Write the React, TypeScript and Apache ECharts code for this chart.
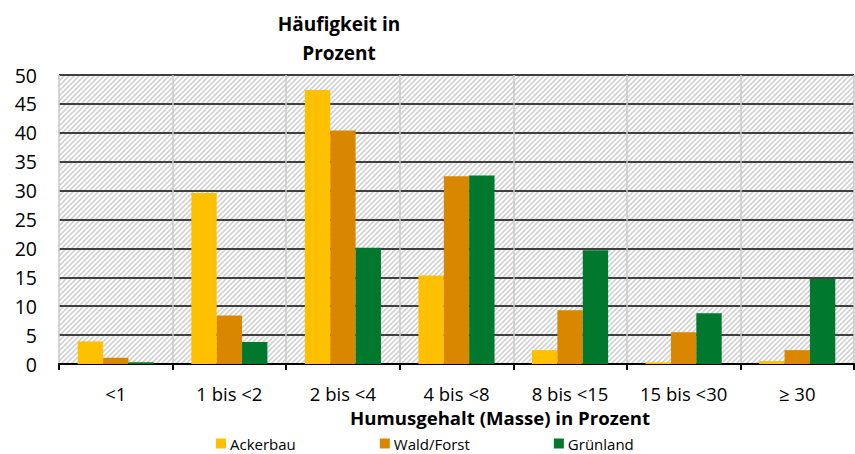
import React, { useEffect, useRef } from 'react';
import * as echarts from 'echarts';

const categories = ['<1', '1 bis <2', '2 bis <4', '4 bis <8', '8 bis <15', '15 bis <30', '≥ 30'];
const ackerbau = [3.9, 29.6, 47.4, 15.3, 2.4, 0.3, 0.5];
const waldForst = [1.1, 8.4, 40.4, 32.5, 9.3, 5.5, 2.4];
const gruenland = [0.3, 3.8, 20.1, 32.6, 19.7, 8.8, 14.7];
const seriesNames = ['Ackerbau', 'Wald/Forst', 'Grünland'];
const colors = ['#FFC000', '#D98700', '#00782D'];
const yTicks = { min: 0, max: 50, interval: 5 };

const FONT = 'Open Sans';

function makeHatch(): HTMLCanvasElement {
  const s = 5;
  const c = document.createElement('canvas');
  c.width = s;
  c.height = s;
  const ctx = c.getContext('2d')!;
  ctx.fillStyle = '#ffffff';
  ctx.fillRect(0, 0, s, s);
  ctx.strokeStyle = '#d2d2d2';
  ctx.lineWidth = 1.6;
  ctx.beginPath();
  ctx.moveTo(-2, s + 2);
  ctx.lineTo(s + 2, -2);
  ctx.moveTo(-2, 2);
  ctx.lineTo(2, -2);
  ctx.moveTo(s - 2, s + 2);
  ctx.lineTo(s + 2, s - 2);
  ctx.stroke();
  return c;
}

export default function App() {
  const ref = useRef<HTMLDivElement>(null);
  useEffect(() => {
    if (!ref.current) return;
    const chart = echarts.init(ref.current, undefined, { renderer: 'svg' });
    const hatch = makeHatch();
    const data = [ackerbau, waldForst, gruenland];
    chart.setOption({
      animation: false,
      backgroundColor: '#ffffff',
      textStyle: { fontFamily: FONT },
      title: [
        {
          text: 'Häufigkeit in\nProzent',
          left: 334,
          textAlign: 'center',
          top: 4,
          textStyle: { fontFamily: FONT, fontSize: 19, fontWeight: 'bold', color: '#000', lineHeight: 29 },
        },
        {
          text: 'Humusgehalt (Masse) in Prozent',
          left: 495,
          textAlign: 'center',
          top: 401,
          textStyle: { fontFamily: FONT, fontSize: 18.6, fontWeight: 'bold', color: '#000', lineHeight: 22 },
        },
      ],
      legend: {
        data: seriesNames,
        left: 216,
        top: 436,
        padding: 0,
        itemWidth: 10,
        itemHeight: 10,
        itemGap: 84,
        icon: 'rect',
        textStyle: { fontFamily: FONT, fontSize: 15, color: '#000', padding: [0, 0, 0, -1] },
      },
      grid: {
        show: true,
        left: 59,
        right: 1,
        top: 75,
        bottom: 90,
        backgroundColor: { image: hatch, repeat: 'repeat', imageWidth: 5, imageHeight: 5 } as any,
        borderWidth: 0,
      },
      xAxis: {
        type: 'category',
        data: categories,
        axisLine: { show: true, lineStyle: { color: '#000', width: 2 } },
        axisTick: { show: true, length: 6, lineStyle: { color: '#000', width: 2 } },
        axisLabel: { fontFamily: FONT, fontSize: 18.5, color: '#000', margin: 20 },
        splitLine: { show: true, lineStyle: { color: '#c8c8c8', width: 1.5 } },
      },
      yAxis: {
        type: 'value',
        min: yTicks.min,
        max: yTicks.max,
        interval: yTicks.interval,
        axisLine: { show: false },
        axisTick: { show: false },
        axisLabel: { fontFamily: FONT, fontSize: 19.5, color: '#000', margin: 22 },
        splitLine: { show: true, lineStyle: { color: '#404040', width: 2 } },
      },
      series: seriesNames.map((name, i) => ({
        name,
        type: 'bar',
        data: data[i],
        barGap: '0%',
        barCategoryGap: '33%',
        itemStyle: { color: colors[i] },
      })),
    });
    return () => chart.dispose();
  }, []);
  return <div ref={ref} style={{ position: 'fixed', left: 0, top: 0, width: 855, height: 454 }} />;
}
